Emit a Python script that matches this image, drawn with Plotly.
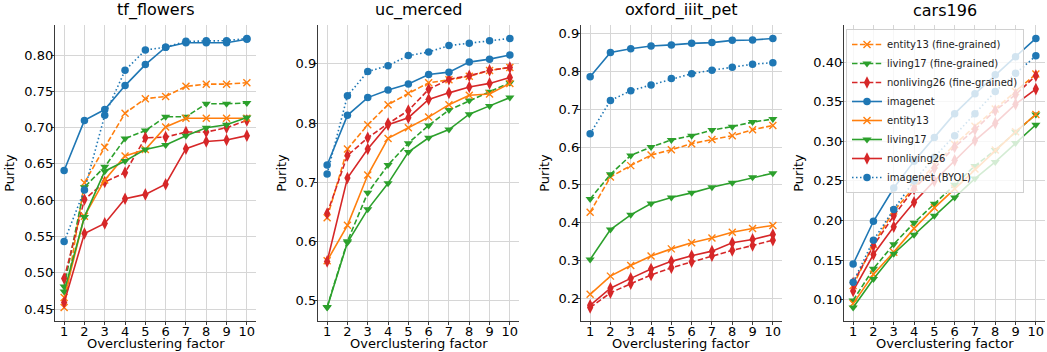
import plotly.graph_objects as go

factors = [1, 2, 3, 4, 5, 6, 7, 8, 9, 10]
datasets = ["tf_flowers", "uc_merced", "oxford_iiit_pet", "cars196"]
series_names = ["entity13 (fine-grained)", "living17 (fine-grained)", "nonliving26 (fine-grained)",
                "imagenet", "entity13", "living17", "nonliving26", "imagenet (BYOL)"]

# tf_flowers
tf_entity13_fg = [0.452, 0.624, 0.673, 0.720, 0.740, 0.743, 0.757, 0.760, 0.760, 0.762]
tf_living17_fg = [0.481, 0.618, 0.646, 0.685, 0.696, 0.715, 0.715, 0.733, 0.733, 0.734]
tf_nonliving26_fg = [0.492, 0.601, 0.625, 0.638, 0.686, 0.687, 0.694, 0.694, 0.700, 0.710]
tf_imagenet = [0.641, 0.710, 0.725, 0.758, 0.787, 0.811, 0.817, 0.817, 0.817, 0.822]
tf_entity13 = [0.466, 0.578, 0.628, 0.661, 0.670, 0.701, 0.713, 0.713, 0.713, 0.713]
tf_living17 = [0.474, 0.577, 0.640, 0.654, 0.670, 0.676, 0.689, 0.700, 0.704, 0.714]
tf_nonliving26 = [0.459, 0.554, 0.568, 0.602, 0.608, 0.622, 0.671, 0.681, 0.683, 0.689]
tf_imagenet_byol = [0.543, 0.614, 0.717, 0.779, 0.807, 0.811, 0.819, 0.820, 0.820, 0.823]

# uc_merced
uc_entity13_fg = [0.640, 0.756, 0.797, 0.831, 0.850, 0.868, 0.873, 0.879, 0.889, 0.894]
uc_living17_fg = [0.489, 0.600, 0.682, 0.729, 0.766, 0.796, 0.822, 0.838, 0.853, 0.868]
uc_nonliving26_fg = [0.647, 0.745, 0.775, 0.799, 0.821, 0.857, 0.874, 0.880, 0.889, 0.894]
uc_imagenet = [0.729, 0.813, 0.843, 0.856, 0.866, 0.882, 0.886, 0.903, 0.908, 0.915]
uc_entity13 = [0.567, 0.627, 0.712, 0.774, 0.792, 0.810, 0.831, 0.847, 0.849, 0.867]
uc_living17 = [0.488, 0.598, 0.654, 0.698, 0.751, 0.775, 0.789, 0.815, 0.829, 0.843]
uc_nonliving26 = [0.566, 0.707, 0.756, 0.797, 0.809, 0.840, 0.851, 0.861, 0.867, 0.877]
uc_imagenet_byol = [0.714, 0.846, 0.887, 0.897, 0.914, 0.920, 0.931, 0.935, 0.939, 0.943]

# oxford_iiit_pet
ox_entity13_fg = [0.428, 0.521, 0.551, 0.579, 0.593, 0.609, 0.620, 0.630, 0.646, 0.657]
ox_living17_fg = [0.463, 0.528, 0.578, 0.600, 0.619, 0.630, 0.645, 0.654, 0.666, 0.674]
ox_nonliving26_fg = [0.176, 0.215, 0.239, 0.262, 0.281, 0.297, 0.313, 0.327, 0.340, 0.354]
ox_imagenet = [0.786, 0.850, 0.860, 0.867, 0.870, 0.874, 0.876, 0.882, 0.883, 0.887]
ox_entity13 = [0.211, 0.259, 0.287, 0.312, 0.331, 0.347, 0.360, 0.375, 0.385, 0.393]
ox_living17 = [0.303, 0.382, 0.421, 0.451, 0.467, 0.479, 0.494, 0.506, 0.520, 0.531]
ox_nonliving26 = [0.182, 0.227, 0.253, 0.278, 0.298, 0.313, 0.325, 0.347, 0.356, 0.369]
ox_imagenet_byol = [0.635, 0.723, 0.749, 0.764, 0.781, 0.794, 0.803, 0.811, 0.819, 0.823]

# cars196
cars_entity13_fg = [0.118, 0.170, 0.212, 0.242, 0.270, 0.296, 0.319, 0.341, 0.363, 0.385]
cars_living17_fg = [0.099, 0.139, 0.170, 0.197, 0.221, 0.245, 0.269, 0.289, 0.312, 0.334]
cars_nonliving26_fg = [0.121, 0.168, 0.206, 0.240, 0.266, 0.293, 0.315, 0.339, 0.359, 0.383]
cars_imagenet = [0.145, 0.199, 0.241, 0.275, 0.305, 0.335, 0.360, 0.384, 0.407, 0.430]
cars_entity13 = [0.095, 0.132, 0.160, 0.190, 0.216, 0.240, 0.265, 0.289, 0.312, 0.334]
cars_living17 = [0.090, 0.126, 0.158, 0.182, 0.206, 0.229, 0.253, 0.274, 0.298, 0.321]
cars_nonliving26 = [0.111, 0.157, 0.192, 0.223, 0.250, 0.276, 0.301, 0.323, 0.347, 0.366]
cars_imagenet_byol = [0.122, 0.175, 0.214, 0.250, 0.280, 0.307, 0.335, 0.363, 0.386, 0.408]

panel_data = [
    [tf_entity13_fg, tf_living17_fg, tf_nonliving26_fg, tf_imagenet,
     tf_entity13, tf_living17, tf_nonliving26, tf_imagenet_byol],
    [uc_entity13_fg, uc_living17_fg, uc_nonliving26_fg, uc_imagenet,
     uc_entity13, uc_living17, uc_nonliving26, uc_imagenet_byol],
    [ox_entity13_fg, ox_living17_fg, ox_nonliving26_fg, ox_imagenet,
     ox_entity13, ox_living17, ox_nonliving26, ox_imagenet_byol],
    [cars_entity13_fg, cars_living17_fg, cars_nonliving26_fg, cars_imagenet,
     cars_entity13, cars_living17, cars_nonliving26, cars_imagenet_byol],
]

BLUE, ORANGE, GREEN, RED = "#1f77b4", "#ff7f0e", "#2ca02c", "#d62728"
DASH = "5.5px,2.4px"
DOT = "1.5px,2.5px"
styles = [
    dict(color=ORANGE, dash=DASH, symbol="x-thin", size=7),
    dict(color=GREEN, dash=DASH, symbol="triangle-down", size=8),
    dict(color=RED, dash=DASH, symbol="diamond-tall", size=9),
    dict(color=BLUE, dash="solid", symbol="circle", size=7.5),
    dict(color=ORANGE, dash="solid", symbol="x-thin", size=7),
    dict(color=GREEN, dash="solid", symbol="triangle-down", size=8),
    dict(color=RED, dash="solid", symbol="diamond-tall", size=9),
    dict(color=BLUE, dash=DOT, symbol="circle", size=7.5),
]
ytick_cfg = [
    dict(dtick=0.05, tickformat=".2f"),
    dict(dtick=0.1, tickformat=".1f"),
    dict(dtick=0.1, tickformat=".1f"),
    dict(dtick=0.05, tickformat=".2f"),
]

W, H = 1047, 352
ML, MR, MT, MB = 55, 2, 25, 31
pw = W - ML - MR
ph = H - MT - MB
panel_left = [55, 318, 581, 844]
panel_w = 201

FONT = "DejaVu Sans"
fig = go.Figure()
layout = dict(
    width=W, height=H, margin=dict(l=ML, r=MR, t=MT, b=MB),
    paper_bgcolor="white", plot_bgcolor="white",
    font=dict(family=FONT, size=13, color="black"),
    showlegend=True,
    annotations=[],
)

for p, name in enumerate(datasets):
    sfx = "" if p == 0 else str(p + 1)
    xa, ya = "x" + sfx, "y" + sfx
    for s, vals in enumerate(panel_data[p]):
        st = styles[s]
        is_x = st["symbol"].startswith("x")
        fig.add_trace(go.Scatter(
            x=factors, y=vals, mode="lines+markers", name=series_names[s],
            xaxis=xa, yaxis=ya, showlegend=(p == 3),
            line=dict(color=st["color"], width=1.6, dash=st["dash"]),
            marker=dict(symbol=st["symbol"], size=st["size"], color=st["color"],
                        line=dict(color=st["color"], width=1.4 if is_x else 0)),
        ))
    allv = [v for arr in panel_data[p] for v in arr]
    lo, hi = min(allv), max(allv)
    m = (hi - lo) * 0.05
    d0 = (panel_left[p] - ML) / pw
    d1 = (panel_left[p] + panel_w - ML) / pw
    axis_common = dict(showline=True, linecolor="#3a3a3a", linewidth=1.3,
                       showgrid=True, gridcolor="#d6d6d6", gridwidth=1.1,
                       ticks="outside", ticklen=3, tickcolor="#3a3a3a", tickwidth=1,
                       zeroline=False, tickfont=dict(size=13, family=FONT, color="black"))
    layout["xaxis" + sfx] = dict(
        domain=[d0, d1], anchor=ya, range=[0.55, 10.45], tickvals=factors,
        ticklabelstandoff=-5, **axis_common)
    layout["yaxis" + sfx] = dict(
        domain=[0, 1], anchor=xa, range=[lo - m, hi + m],
        title=dict(text="Purity", standoff=6, font=dict(size=13)),
        ticklabelstandoff=-5, **ytick_cfg[p], **axis_common)
    layout["annotations"].append(dict(
        text=name, x=(d0 + d1) / 2, y=1, xref="paper", yref="paper",
        xanchor="center", yanchor="bottom", yshift=3, showarrow=False,
        font=dict(size=16, family=FONT, color="black")))
    layout["annotations"].append(dict(
        text="Overclustering factor", x=(d0 + d1) / 2, y=0, xref="paper", yref="paper",
        xanchor="center", yanchor="middle", yshift=-22, showarrow=False,
        font=dict(size=13, family=FONT, color="black")))

d40 = (panel_left[3] - ML) / pw
layout["legend"] = dict(
    x=d40 + 2 / pw, y=1 - 4 / ph, xanchor="left", yanchor="top",
    bgcolor="rgba(255,255,255,0.8)", bordercolor="#d0d0d0", borderwidth=1,
    font=dict(size=10, family=FONT, color="#222"), itemwidth=30,
    tracegroupgap=0,
)
fig.update_layout(**layout)
fig.write_html("out.html", config={"displayModeBar": False},
               post_script="document.body.style.margin='0';document.body.style.padding='0';")
